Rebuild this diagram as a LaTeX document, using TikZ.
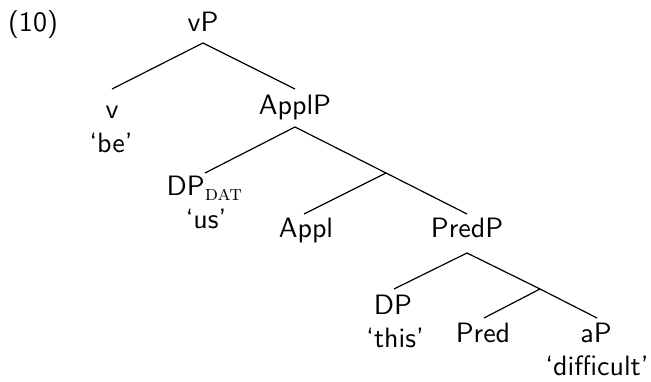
\documentclass[tikz,border=0pt]{standalone}
\begin{document}
\begin{tikzpicture}[x=0.375pt,y=-0.375pt,
  lbl/.style={font=\sffamily\fontsize{10.5}{12.6}\selectfont, inner sep=0pt, anchor=base},
  branch/.style={line width=0.45pt}]
\useasboundingbox (0,0) rectangle (651,382);

% example number
\node[lbl] (num) at (33,32) {(10)};

% labels (placed at their baselines)
\node[lbl] (vP)     at (203,32)  {vP};
\node[lbl] (v)      at (112,119) {v};
\node[lbl] (vgl)    at (111,153) {‘be’};
\node[lbl] (ApplP)  at (295,115) {ApplP};
\node[lbl] (DPdat)  at (205,196) {DP$_{\mbox{\footnotesize\rmfamily\scshape dat}}$};
\node[lbl] (usgl)   at (206,229) {‘us’};
\node[lbl] (Appl)   at (306,238) {Appl};
\node[lbl] (PredP)  at (467,238) {PredP};
\node[lbl] (DP)     at (393,315) {DP};
\node[lbl] (thisgl) at (395,348) {‘this’};
\node[lbl] (Pred)   at (483,343) {Pred};
\node[lbl] (aP)     at (596,343) {aP};
\node[lbl] (agl)    at (597,376) {‘difficult’};

% attachment points of the branches
\coordinate (vP-b)    at (203,43);
\coordinate (v-t)     at (112,89);
\coordinate (ApplP-t) at (295,89);
\coordinate (ApplP-b) at (295,127);
\coordinate (DPdat-t) at (205,173);
\coordinate (Applbar) at (386,173);
\coordinate (Appl-t)  at (304,214);
\coordinate (PredP-t) at (467,214);
\coordinate (PredP-b) at (467,253);
\coordinate (DP-t)    at (394,289);
\coordinate (Predbar) at (540,289);
\coordinate (Pred-t)  at (484,318);
\coordinate (aP-t)    at (597,318);

% branches
\draw[branch] (v-t) -- (vP-b) -- (ApplP-t);
\draw[branch] (DPdat-t) -- (ApplP-b) -- (Applbar) -- (PredP-t);
\draw[branch] (Appl-t) -- (Applbar);
\draw[branch] (DP-t) -- (PredP-b) -- (Predbar) -- (aP-t);
\draw[branch] (Pred-t) -- (Predbar);
\end{tikzpicture}
\end{document}
